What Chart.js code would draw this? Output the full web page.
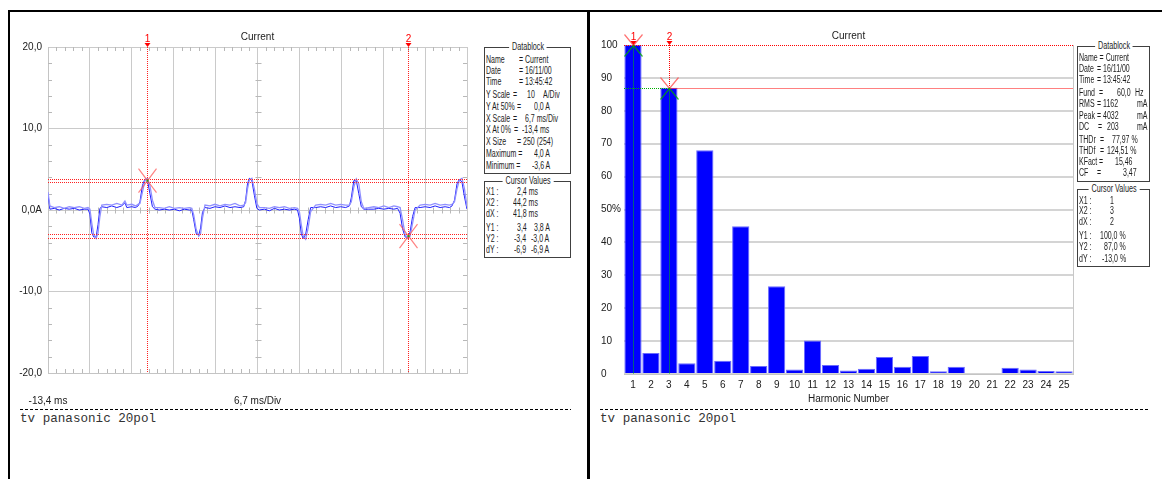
<!DOCTYPE html>
<html lang="de">
<head>
<meta charset="utf-8">
<title>Current</title>
<script src="https://cdn.jsdelivr.net/npm/chart.js@4.4.1/dist/chart.umd.min.js"></script>
<style>
  html, body { margin: 0; padding: 0; background: #fff; }
  #page { position: relative; width: 1162px; height: 479px; overflow: hidden; background: #fff; color: #1c1c1c; }
  .rule { position: absolute; background: #000; }
  .dash { position: absolute; height: 1px; background: repeating-linear-gradient(90deg, #000 0 3px, transparent 3px 5px); }
  .note { position: absolute; font: 12.6px "Liberation Mono", "DejaVu Sans Mono", monospace; color: #333; line-height: 14px; white-space: pre; }
  canvas { position: absolute; }
  .box { position: absolute; box-sizing: border-box; border: 1px solid #404040; }
  .cap { position: absolute; top: -7px; left: 50%; transform: translateX(-50%) scaleX(0.72); background: #fff; padding: 0 4px;
         font: 10px "Liberation Sans", Arial, sans-serif; line-height: 12px; white-space: pre; color: #1c1c1c; }
  .t { position: absolute; font: 10px "Liberation Sans", Arial, sans-serif; line-height: 12px; white-space: pre;
       transform: scaleX(0.7); transform-origin: 0 50%; }
</style>
</head>
<body>
<div id="page">
  <div class="rule" style="left:8px;top:10px;width:1154px;height:2px"></div>
  <div class="rule" style="left:8px;top:10px;width:2px;height:469px"></div>
  <div class="rule" style="left:587px;top:10px;width:3px;height:469px"></div>

  <canvas id="wave" width="480" height="410" style="left:0;top:0;width:480px;height:410px"></canvas>
  <canvas id="spectrum" width="500" height="410" style="left:588px;top:0;width:500px;height:410px"></canvas>

  <div class="box" style="left:484px;top:47px;width:87px;height:127px"><div class="cap">Datablock</div></div>
  <div class="box" style="left:484px;top:181px;width:87px;height:77px"><div class="cap">Cursor Values</div></div>
  <div class="box" style="left:1077px;top:46px;width:73px;height:136px"><div class="cap">Datablock</div></div>
  <div class="box" style="left:1077px;top:189px;width:73px;height:78px"><div class="cap">Cursor Values</div></div>

  <div class="dash" style="left:20px;top:409px;width:551px"></div>
  <div class="dash" style="left:600px;top:409px;width:550px"></div>
  <div class="note" style="left:20px;top:412px">tv panasonic 20pol</div>
  <div class="note" style="left:600px;top:412px">tv panasonic 20pol</div>
</div>

<script>
// ---- waveform: time base (ms) and the two current traces (A) ----
const timeMs = [
  -13.4, -13.1, -12.4, -11.6, -10.8, -10.0, -9.2, -8.4, -7.6, -7.0,
  -6.7, -6.4, -6.1, -5.7, -5.4, -5.1,
  -4.8, -4.0, -3.2, -2.4, -1.6, -1.1, -0.8, 0.0, 0.6, 1.0,
  1.3, 1.7, 2.1, 2.5, 2.9, 3.3,
  3.7, 4.4, 5.2, 6.0, 6.8, 7.6, 8.4, 9.2, 9.6,
  9.9, 10.3, 10.7, 11.0, 11.3,
  11.7, 12.5, 13.3, 14.1, 14.9, 15.7, 16.5, 17.3, 17.9,
  18.2, 18.5, 18.8, 19.2, 19.6, 20.0,
  20.4, 21.2, 22.0, 22.8, 23.6, 24.4, 25.2, 26.0, 26.5,
  26.8, 27.1, 27.4, 27.8, 28.2,
  28.6, 29.4, 30.2, 31.0, 31.8, 32.6, 33.4, 34.2, 34.8,
  35.1, 35.5, 35.9, 36.3, 36.7,
  37.1, 37.9, 38.7, 39.5, 40.3, 41.1, 41.9, 42.5,
  42.9, 43.3, 43.7, 44.1, 44.5, 44.9,
  45.3, 46.1, 46.9, 47.7, 48.5, 49.3, 50.1, 50.8, 51.2,
  51.6, 52.0, 52.4, 52.8, 53.2, 53.6
];
const currentDark = [
  1.9, 0.1, 0.2, 0.0, 0.2, 0.1, 0.2, 0.0, 0.1, 0.1,
  -0.5, -2.8, -3.3, -3.3, -1.8, 0.2,
  0.4, 0.3, 0.5, 0.3, 0.5, 0.9, 0.3, 0.4, 0.3, 0.5,
  1.0, 3.0, 3.8, 3.7, 2.0, 0.4,
  0.1, 0.0, 0.1, 0.0, 0.1, -0.1, 0.1, 0.0, 0.0,
  -1.2, -2.9, -3.1, -2.2, -0.3,
  0.3, 0.2, 0.4, 0.3, 0.5, 0.3, 0.4, 0.3, 0.4,
  1.2, 3.2, 3.9, 3.6, 1.8, 0.2,
  0.0, 0.1, -0.1, 0.2, 0.0, 0.1, 0.0, 0.1, 0.0,
  -1.0, -2.9, -3.5, -3.0, -1.2,
  0.3, 0.3, 0.4, 0.3, 0.5, 0.3, 0.4, 0.3, 0.5,
  1.5, 3.6, 3.6, 2.0, 0.4,
  0.1, 0.1, 0.1, 0.2, 0.1, 0.2, 0.1, 0.2,
  -0.4, -2.3, -3.3, -3.4, -2.7, -0.8,
  0.3, 0.3, 0.4, 0.3, 0.5, 0.3, 0.4, 0.3, 0.5,
  1.2, 3.2, 3.8, 3.4, 1.6, 0.1
];
const currentLight = [
  2.2, 0.5, 0.3, 0.4, 0.2, 0.4, 0.3, 0.4, 0.2, 0.3,
  0.1, -1.6, -3.0, -3.5, -2.8, -0.8,
  0.6, 0.7, 0.6, 0.8, 0.6, 1.1, 0.6, 0.7, 0.5, 0.7,
  0.8, 2.2, 3.6, 3.9, 3.0, 1.2,
  0.3, 0.3, 0.2, 0.4, 0.2, 0.3, 0.2, 0.3, 0.2,
  -0.6, -2.4, -3.2, -2.9, -1.0,
  0.6, 0.5, 0.7, 0.5, 0.7, 0.6, 0.8, 0.5, 0.6,
  0.9, 2.6, 3.7, 3.9, 2.6, 0.8,
  0.3, 0.3, 0.2, 0.4, 0.3, 0.4, 0.2, 0.3, 0.2,
  -0.2, -1.8, -3.2, -3.6, -2.2,
  -0.2, 0.6, 0.7, 0.6, 0.8, 0.6, 0.7, 0.6, 0.6,
  1.0, 2.8, 3.8, 3.2, 1.0,
  0.2, 0.3, 0.4, 0.3, 0.5, 0.3, 0.5, 0.4,
  0.3, -1.2, -3.0, -3.5, -3.2, -1.6,
  0.0, 0.6, 0.7, 0.6, 0.8, 0.6, 0.7, 0.6, 0.7,
  1.0, 2.6, 3.7, 3.9, 2.6, 0.4
];
const timeTicks = [-13.4, -6.7, 0, 6.7, 13.4, 20.1, 26.8, 33.5, 40.2, 46.9, 53.6];
const ampTicks = [-20, -10, 0, 10, 20];
const ampTickLabels = ['-20,0', '-10,0', '0,0A', '10,0', '20,0'];
const waveCursorTime = [2.4, 44.2];
const waveCursorLevels = [[3.4, 3.8], [-3.4, -3.0]];

// ---- harmonic spectrum (% of fundamental) ----
const harmonicNumbers = ['1','2','3','4','5','6','7','8','9','10','11','12','13','14','15','16','17','18','19','20','21','22','23','24','25'];
const harmonicPercent = [100.0, 6.4, 87.0, 3.3, 68.0, 4.0, 44.9, 2.4, 26.7, 1.4, 10.2, 2.7, 1.1, 1.6, 5.2, 2.2, 5.5, 0.8, 2.2, 0.3, 0.0, 1.9, 1.4, 0.9, 0.8];
const percentTicks = [0, 10, 20, 30, 40, 50, 60, 70, 80, 90, 100];
const percentTickLabels = ['0', '10', '20', '30', '40', '50%', '60', '70', '80', '90', '100'];
const harmonicCursors = ['1', '3'];
const harmonicCursorPercent = [100.0, 87.0];

const SANS = '"Liberation Sans", Arial, sans-serif';
Chart.defaults.font.family = SANS;
Chart.defaults.font.size = 10;
Chart.defaults.color = '#202020';

const px = v => Math.round(v) + 0.5;

function dotted(ctx, x1, y1, x2, y2, color) {
  ctx.save();
  ctx.strokeStyle = color;
  ctx.lineWidth = 1;
  ctx.setLineDash([1, 1]);
  ctx.beginPath();
  ctx.moveTo(x1, y1);
  ctx.lineTo(x2, y2);
  ctx.stroke();
  ctx.restore();
}

function cursorFlag(ctx, x, top, label) {
  ctx.save();
  ctx.fillStyle = '#ff0000';
  ctx.font = '10px ' + SANS;
  ctx.textAlign = 'center';
  ctx.textBaseline = 'middle';
  ctx.fillText(label, x, top - 8);
  ctx.beginPath();
  ctx.moveTo(x - 3, top - 4);
  ctx.lineTo(x + 3, top - 4);
  ctx.lineTo(x, top);
  ctx.closePath();
  ctx.fill();
  ctx.restore();
}

function crossMark(ctx, x, y, hw, hh, upper, lower) {
  ctx.save();
  ctx.lineWidth = 1.2;
  ctx.strokeStyle = upper;
  ctx.beginPath();
  ctx.moveTo(x - hw, y - hh); ctx.lineTo(x, y); ctx.lineTo(x + hw, y - hh);
  ctx.stroke();
  ctx.strokeStyle = lower;
  ctx.beginPath();
  ctx.moveTo(x - hw, y + hh); ctx.lineTo(x, y); ctx.lineTo(x + hw, y + hh);
  ctx.stroke();
  ctx.restore();
}

// small division marks along the frame and the centre cross of the scope grid
const scopeMarks = {
  id: 'scopeMarks',
  beforeDatasetsDraw(chart) {
    const { ctx, chartArea: a, scales: { x, y } } = chart;
    const xc = px(x.getPixelForValue(timeTicks[5]));
    const yc = px(y.getPixelForValue(0));
    ctx.save();
    ctx.strokeStyle = '#b8b8b8';
    ctx.lineWidth = 1;
    ctx.beginPath();
    for (let i = 0; i < timeTicks.length - 1; i++) {
      const p0 = x.getPixelForValue(timeTicks[i]), p1 = x.getPixelForValue(timeTicks[i + 1]);
      for (let k = 1; k < 5; k++) {
        const p = px(p0 + (p1 - p0) * k / 5);
        ctx.moveTo(p, a.top); ctx.lineTo(p, a.top + 4);
        ctx.moveTo(p, a.bottom); ctx.lineTo(p, a.bottom - 4);
        ctx.moveTo(p, yc - 3); ctx.lineTo(p, yc + 3);
      }
    }
    for (let i = 0; i < ampTicks.length - 1; i++) {
      const p0 = y.getPixelForValue(ampTicks[i]), p1 = y.getPixelForValue(ampTicks[i + 1]);
      for (let k = 1; k < 5; k++) {
        const p = px(p0 + (p1 - p0) * k / 5);
        ctx.moveTo(a.left, p); ctx.lineTo(a.left + 4, p);
        ctx.moveTo(a.right, p); ctx.lineTo(a.right - 4, p);
        ctx.moveTo(xc - 3, p); ctx.lineTo(xc + 3, p);
      }
    }
    ctx.stroke();
    ctx.restore();
  },
  afterDatasetsDraw(chart) {
    const { ctx, chartArea: a, scales: { x, y } } = chart;
    waveCursorTime.forEach((t, i) => {
      const cx = px(x.getPixelForValue(t));
      dotted(ctx, cx, a.top - 2, cx, a.bottom, '#ff2020');
      waveCursorLevels[i].forEach(v => {
        const cy = px(y.getPixelForValue(v));
        dotted(ctx, a.left, cy, a.right, cy, '#ff2020');
      });
      const lv = waveCursorLevels[i];
      const my = y.getPixelForValue((lv[0] + lv[1]) / 2);
      crossMark(ctx, cx, my, 9, 12, 'rgba(255,90,90,0.75)', 'rgba(255,90,90,0.75)');
      ctx.save();
      ctx.fillStyle = '#20a020';
      ctx.fillRect(cx - 1, my - 1, 2, 2);
      ctx.restore();
      cursorFlag(ctx, cx, a.top, String(i + 1));
    });
  }
};

const spectrumMarks = {
  id: 'spectrumMarks',
  afterDatasetsDraw(chart) {
    const { ctx, chartArea: a, scales: { x, y } } = chart;
    ctx.save();
    ctx.strokeStyle = '#c8c8c8';
    ctx.lineWidth = 1;
    ctx.beginPath();
    ctx.moveTo(px(a.right), a.top); ctx.lineTo(px(a.right), a.bottom);
    ctx.stroke();
    ctx.restore();
    const xs = harmonicCursors.map(h => px(x.getPixelForValue(harmonicNumbers.indexOf(h))));
    const ys = harmonicCursorPercent.map(v => px(y.getPixelForValue(v)));
    // reference levels
    dotted(ctx, a.left, ys[0], a.right, ys[0], '#ff0000');
    dotted(ctx, a.left, ys[1], xs[1], ys[1], '#00b000');
    dotted(ctx, xs[1], ys[1], a.right, ys[1], '#ff0000');
    // cursor verticals
    xs.forEach((cx, i) => {
      dotted(ctx, cx, a.top - 2, cx, ys[i], '#ff0000');
      dotted(ctx, cx, ys[i], cx, a.bottom, '#00c000');
    });
    xs.forEach((cx, i) => {
      crossMark(ctx, cx, ys[i], 9, 11, 'rgba(255,80,80,0.8)', 'rgba(0,170,0,0.8)');
      cursorFlag(ctx, cx, a.top, String(i + 1));
    });
  }
};

new Chart(document.getElementById('wave'), {
  type: 'line',
  data: {
    datasets: [
      { data: timeMs.map((t, i) => ({ x: t, y: currentLight[i] })), borderColor: '#9090ff', borderWidth: 1.3, pointRadius: 0, tension: 0 },
      { data: timeMs.map((t, i) => ({ x: t, y: currentDark[i] })), borderColor: '#1f1fff', borderWidth: 1, pointRadius: 0, tension: 0 }
    ]
  },
  options: {
    responsive: false,
    animation: false,
    devicePixelRatio: 1,
    events: [],
    layout: { padding: { left: 0, top: 31, right: 13, bottom: 0 } },
    plugins: {
      legend: { display: false },
      tooltip: { enabled: false },
      title: { display: true, text: 'Current', fullSize: false, color: '#202020', font: { size: 10, weight: 'normal' }, padding: { top: 0, bottom: 4 } }
    },
    scales: {
      x: {
        type: 'linear', min: -13.4, max: 53.6,
        afterBuildTicks: s => { s.ticks = timeTicks.map(v => ({ value: v })); },
        afterFit: s => { s.height = 37; },
        grid: { color: '#cacaca', drawTicks: true, tickLength: 22, tickColor: 'rgba(0,0,0,0)' },
        border: { color: '#c4c4c4' },
        ticks: { autoSkip: false, maxRotation: 0, padding: 0, callback: (v, i) => (i === 0 ? '-13,4 ms' : '') },
        title: { display: true, text: '6,7 ms/Div', color: '#202020', font: { size: 10 }, padding: { top: 0, bottom: 3 } }
      },
      y: {
        min: -20, max: 20,
        afterBuildTicks: s => { s.ticks = ampTicks.map(v => ({ value: v })); },
        afterFit: s => { s.width = 48; },
        grid: { color: '#cacaca', drawTicks: false },
        border: { color: '#c4c4c4' },
        ticks: { padding: 6, callback: v => ampTickLabels[ampTicks.indexOf(v)] }
      }
    }
  },
  plugins: [scopeMarks]
});

new Chart(document.getElementById('spectrum'), {
  type: 'bar',
  data: {
    labels: harmonicNumbers,
    datasets: [{
      data: harmonicPercent,
      backgroundColor: '#0000ff',
      borderColor: '#6a6aff',
      borderWidth: 1,
      borderSkipped: 'bottom',
      categoryPercentage: 1,
      barPercentage: 0.96
    }]
  },
  options: {
    responsive: false,
    animation: false,
    devicePixelRatio: 1,
    events: [],
    layout: { padding: { left: 13, top: 30, right: 15, bottom: 0 } },
    plugins: {
      legend: { display: false },
      tooltip: { enabled: false },
      title: { display: true, text: 'Current', fullSize: false, color: '#202020', font: { size: 10, weight: 'normal' }, padding: { top: 0, bottom: 3 } }
    },
    scales: {
      x: {
        afterFit: s => { s.height = 36; },
        grid: { display: false, drawTicks: false },
        border: { display: true, color: '#c4c4c4' },
        ticks: { autoSkip: false, maxRotation: 0, padding: 5 },
        title: { display: true, text: 'Harmonic Number', color: '#202020', font: { size: 10 }, padding: { top: 0, bottom: 5 } }
      },
      y: {
        min: 0, max: 100,
        afterBuildTicks: s => { s.ticks = percentTicks.map(v => ({ value: v })); },
        afterFit: s => { s.width = 23; },
        grid: { color: ctx => (ctx.tick && ctx.tick.value === 100 ? 'rgba(0,0,0,0)' : '#d4d4d4'), lineWidth: 2, drawTicks: false },
        border: { display: false },
        ticks: { crossAlign: 'far', padding: 0, callback: v => percentTickLabels[percentTicks.indexOf(v)] }
      }
    }
  },
  plugins: [spectrumMarks]
});

// ---- data block panels ----
const page = document.getElementById('page');
function addRows(rows) {
  rows.forEach(([y, items]) => items.forEach(([x, txt]) => {
    const d = document.createElement('div');
    d.className = 't';
    d.style.left = x + 'px';
    d.style.top = (y - 6) + 'px';
    d.textContent = txt;
    page.appendChild(d);
  }));
}
addRows([
  [59.5, [[486, 'Name'], [519, '= Current']]],
  [70.5, [[486, 'Date'], [519, '= 16/11/00']]],
  [81.7, [[486, 'Time'], [519, '= 13:45:42']]],
  [95, [[486, 'Y Scale'], [513, '='], [527, '10'], [543, 'A/Div']]],
  [106.7, [[486, 'Y At 50%'], [517, '='], [534, '0,0 A']]],
  [119, [[486, 'X Scale'], [513, '='], [525, '6,7 ms/Div']]],
  [130, [[486, 'X At 0%'], [514, '='], [522, '-13,4 ms']]],
  [142.3, [[486, 'X Size'], [517, '= 250 (254)']]],
  [154.3, [[486, 'Maximum ='], [534, '4,0 A']]],
  [165.7, [[486, 'Minimum ='], [532, '-3,6 A']]],
  [192.3, [[486, 'X1 :'], [517, '2,4 ms']]],
  [203.3, [[486, 'X2 :'], [513, '44,2 ms']]],
  [214.3, [[486, 'dX :'], [513, '41,8 ms']]],
  [228.3, [[486, 'Y1 :'], [517, '3,4'], [534, '3,8 A']]],
  [239, [[486, 'Y2 :'], [514, '-3,4'], [531, '-3,0 A']]],
  [250, [[486, 'dY :'], [514, '-6,9'], [531, '-6,9 A']]],

  [57.5, [[1079, 'Name = Current']]],
  [69, [[1079, 'Date'], [1097, '= 16/11/00']]],
  [80, [[1079, 'Time'], [1097, '= 13:45:42']]],
  [93.3, [[1079, 'Fund'], [1099, '='], [1117, '60,0'], [1135, 'Hz']]],
  [104.3, [[1079, 'RMS'], [1097, '= 1162'], [1137, 'mA']]],
  [116, [[1079, 'Peak'], [1097, '= 4032'], [1137, 'mA']]],
  [127.3, [[1079, 'DC'], [1098, '='], [1107, '203'], [1137, 'mA']]],
  [139.7, [[1079, 'THDr'], [1100, '='], [1112, '77,97 %']]],
  [151, [[1079, 'THDf'], [1100, '='], [1107, '124,51 %']]],
  [162, [[1079, 'KFact'], [1099, '='], [1115, '15,46']]],
  [173.3, [[1079, 'CF'], [1097, '='], [1123, '3,47']]],
  [200.7, [[1079, 'X1 :'], [1110, '1']]],
  [211.3, [[1079, 'X2 :'], [1110, '3']]],
  [222, [[1079, 'dX :'], [1110, '2']]],
  [236, [[1079, 'Y1 :'], [1100, '100,0 %']]],
  [247.3, [[1079, 'Y2 :'], [1104, '87,0 %']]],
  [259, [[1079, 'dY :'], [1102, '-13,0 %']]]
]);
</script>
</body>
</html>
